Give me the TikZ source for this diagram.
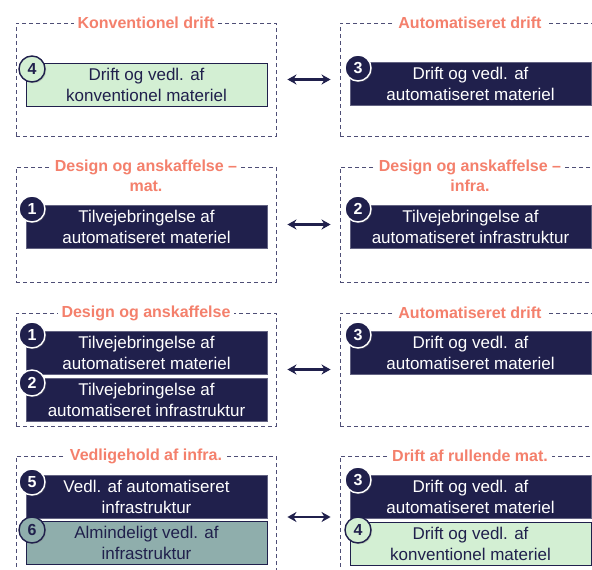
\documentclass[tikz,border=0pt]{standalone}
\usepackage{fontspec}
\setmainfont{Liberation Sans}
\usetikzlibrary{shadows,arrows.meta}
\definecolor{navy}{HTML}{20204C}
\definecolor{mint}{HTML}{D3EFD3}
\definecolor{slate}{HTML}{8FAEAC}
\definecolor{salmon}{HTML}{F4806C}
\definecolor{framegray}{HTML}{4E4E76}
\tikzset{
  frame/.style={draw=framegray, line width=0.9pt, dash pattern=on 4pt off 3pt,
    minimum width=260pt, inner sep=0pt},
  heading/.style={fill=white, text=salmon, font=\fontsize{16}{20}\selectfont\bfseries,
    inner xsep=4pt, inner ysep=0pt, align=center},
  task/.style={minimum width=241pt, minimum height=43pt, inner sep=0pt, align=center,
    font=\fontsize{17}{21}\selectfont},
  navytask/.style={task, fill=navy, draw=navy!70!white, line width=0.6pt, text=white},
  minttask/.style={task, fill=mint, draw=navy, line width=0.8pt, text=navy},
  slatetask/.style={task, fill=slate, draw=navy, line width=0.8pt, text=navy},
  badge/.style={circle, minimum size=26pt, inner sep=0pt, line width=1.4pt,
    font=\fontsize{16}{16}\selectfont\bfseries,
    drop shadow={shadow xshift=1.2pt, shadow yshift=-1.2pt, opacity=0.35}},
  navybadge/.style={badge, fill=navy, draw=white, text=white},
  mintbadge/.style={badge, fill=mint, draw=navy, text=navy},
  slatebadge/.style={badge, fill=slate, draw=navy, text=navy},
  link/.style={{Stealth[length=9pt,width=10pt]}-{Stealth[length=9pt,width=10pt]},
    draw=navy, line width=2.2pt, shorten <=11pt, shorten >=9pt}
}
\begin{document}
\begin{tikzpicture}[x=1pt, y=-1pt]
\useasboundingbox (0,0) rectangle (592,570);
\clip (0,0) rectangle (592,570);

% ---- row 1: conventional vs. automated operation
\node[frame, minimum height=113pt] (f1l) at (146,79.5) {};
\node[frame, minimum height=113pt] (f1r) at (470,79.5) {};
\node[heading] (h1l) at (146,22.5) {Konventionel drift};
\node[heading] (h1r) at (470,22.5) {Automatiseret drift};
\node[minttask] (t1l) at (146.5,84.5) {Drift og vedl. af\\konventionel materiel};
\node[mintbadge] (b1l) at (32,69) {4};
\node[navytask] (t1r) at (470.5,84) {Drift og vedl. af\\automatiseret materiel};
\node[navybadge] (b1r) at (358,68) {3};
\draw[link] (f1l.east) -- (f1r.west);

% ---- row 2: procurement of rolling stock vs. infrastructure
\node[frame, minimum height=115pt] (f2l) at (146,224.5) {};
\node[frame, minimum height=115pt] (f2r) at (470,224.5) {};
\node[heading, anchor=north] (h2l) at (146,160) {Design og anskaffelse --\\mat.};
\node[heading, anchor=north] (h2r) at (470,160) {Design og anskaffelse --\\infra.};
\node[navytask] (t2l) at (146.5,226.5) {Tilvejebringelse af\\automatiseret materiel};
\node[navybadge] (b2l) at (32,209) {1};
\node[navytask] (t2r) at (470.5,226.5) {Tilvejebringelse af\\automatiseret infrastruktur};
\node[navybadge] (b2r) at (358,209) {2};
\draw[link] (f2l.east) -- (f2r.west);

% ---- row 3: combined procurement vs. automated operation
\node[frame, minimum height=113pt] (f3l) at (146,369.5) {};
\node[frame, minimum height=113pt] (f3r) at (470,369.5) {};
\node[heading] (h3l) at (146,313) {Design og anskaffelse};
\node[heading] (h3r) at (470,313) {Automatiseret drift};
\node[navytask] (t3a) at (146.5,352.5) {Tilvejebringelse af\\automatiseret materiel};
\node[navybadge] (b3a) at (32,335) {1};
\node[navytask] (t3b) at (146.5,399.5) {Tilvejebringelse af\\automatiseret infrastruktur};
\node[navybadge] (b3b) at (32,383) {2};
\node[navytask] (t3r) at (470.5,352.5) {Drift og vedl. af\\automatiseret materiel};
\node[navybadge] (b3r) at (358,335) {3};
\draw[link] (f3l.east) -- (f3r.west);

% ---- row 4: infrastructure maintenance vs. rolling stock operation
\node[frame, minimum height=122pt] (f4l) at (146,517) {};
\node[frame, minimum height=122pt] (f4r) at (470,517) {};
\node[heading] (h4l) at (146,456) {Vedligehold af infra.};
\node[heading] (h4r) at (470,456) {Drift af rullende mat.};
\node[navytask] (t4a) at (146.5,496.5) {Vedl. af automatiseret\\infrastruktur};
\node[navybadge] (b4a) at (32,482) {5};
\node[slatetask] (t4b) at (146.5,543) {Almindeligt vedl. af\\infrastruktur};
\node[slatebadge] (b4b) at (32,530) {6};
\node[navytask] (t4c) at (470.5,496.5) {Drift og vedl. af\\automatiseret materiel};
\node[navybadge] (b4c) at (358,480) {3};
\node[minttask] (t4d) at (470.5,543.5) {Drift og vedl. af\\konventionel materiel};
\node[mintbadge] (b4d) at (358,530) {4};
\draw[link] (f4l.east) -- (f4r.west);
\end{tikzpicture}
\end{document}
